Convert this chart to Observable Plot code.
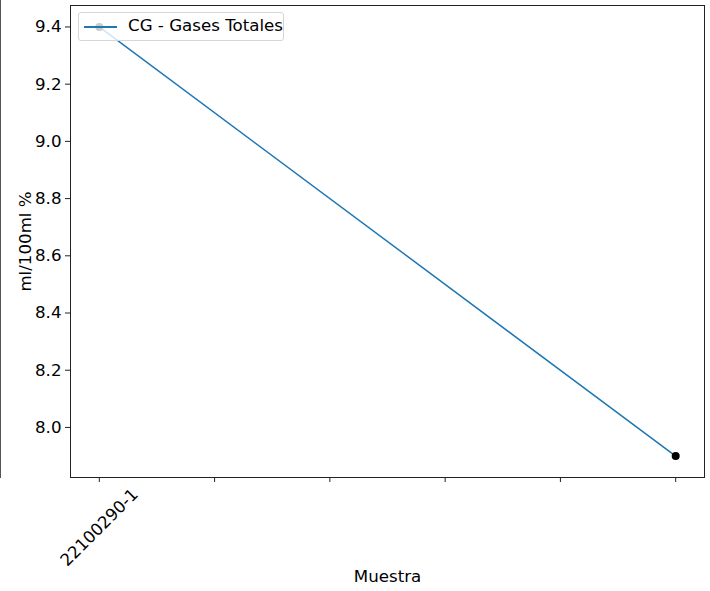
<!DOCTYPE html>
<html><head><meta charset="utf-8">
<script src="https://cdn.jsdelivr.net/npm/d3@7"></script>
<script src="https://cdn.jsdelivr.net/npm/@observablehq/plot@0.6"></script>
<style>
body{margin:0;background:#fff;}
#wrap{position:relative;width:710px;height:591px;font-family:"DejaVu Sans",sans-serif;}
#stray{position:absolute;left:0;top:0;width:1px;height:478px;background:#555;}
#legend{position:absolute;left:78px;top:12px;width:204px;height:27px;border:1px solid #d6d6d6;border-radius:3px;background:rgba(255,255,255,0.8);font-size:16.67px;color:#000;}
#legend .ln{position:absolute;left:5px;top:13px;width:33px;height:1.5px;background:#1f77b4;}
#legend .tx{position:absolute;left:49px;top:3px;white-space:nowrap;}
</style>
</head><body>
<div id="wrap"><div id="stray"></div></div>
<script>
// Data
const positions = [0, 1, 2, 3, 4, 5];
const tickLabels = ["22100290-1", "", "", "", "", ""];
const sampleX = [0, 5];
const gasValues = [9.4, 7.9];
const yTicks = [8.0, 8.2, 8.4, 8.6, 8.8, 9.0, 9.2, 9.4];
const seriesName = "CG - Gases Totales";
const xLabel = "Muestra";
const yLabel = "ml/100ml %";

const data = sampleX.map((x, i) => ({x, y: gasValues[i]}));

const chart = Plot.plot({
  width: 710, height: 591,
  marginLeft: 70, marginRight: 6, marginTop: 5, marginBottom: 114,
  style: {fontFamily: "DejaVu Sans, sans-serif", fontSize: "16.67px", background: "#fff", color: "#000"},
  x: {domain: [-0.25, 5.25]},
  y: {domain: [7.825, 9.475]},
  marks: [
    Plot.line(data, {x: "x", y: "y", stroke: "#1f77b4", strokeWidth: 1.5}),
    Plot.dot(data, {x: "x", y: "y", r: 4, fill: "black", stroke: "none"}),
    Plot.frame({stroke: "#222", strokeWidth: 1}),
    Plot.axisX({ticks: positions, tickFormat: () => "", tickSize: 5, label: null, stroke: "#222"}),
    Plot.text(positions, {x: d => d, text: d => tickLabels[d], frameAnchor: "bottom", dy: 50, rotate: -45, textAnchor: "middle", lineAnchor: "middle", fontSize: 16.67}),
    Plot.axisY({ticks: yTicks, tickFormat: d3.format(".1f"), tickSize: 5, tickPadding: 4, label: null, stroke: "#222", fontSize: 16.67}),
    Plot.text([xLabel], {frameAnchor: "bottom", dy: 99, textAnchor: "middle", lineAnchor: "middle", fontSize: 16.67}),
    Plot.text([yLabel], {frameAnchor: "left", dx: -45, rotate: -90, textAnchor: "middle", lineAnchor: "middle", fontSize: 16.67})
  ]
});
const wrap = document.getElementById("wrap");
wrap.appendChild(chart);
const leg = document.createElement("div");
leg.id = "legend";
leg.innerHTML = '<div class="ln"></div><div class="tx"></div>';
leg.querySelector(".tx").textContent = seriesName;
wrap.appendChild(leg);
</script>
</body></html>
